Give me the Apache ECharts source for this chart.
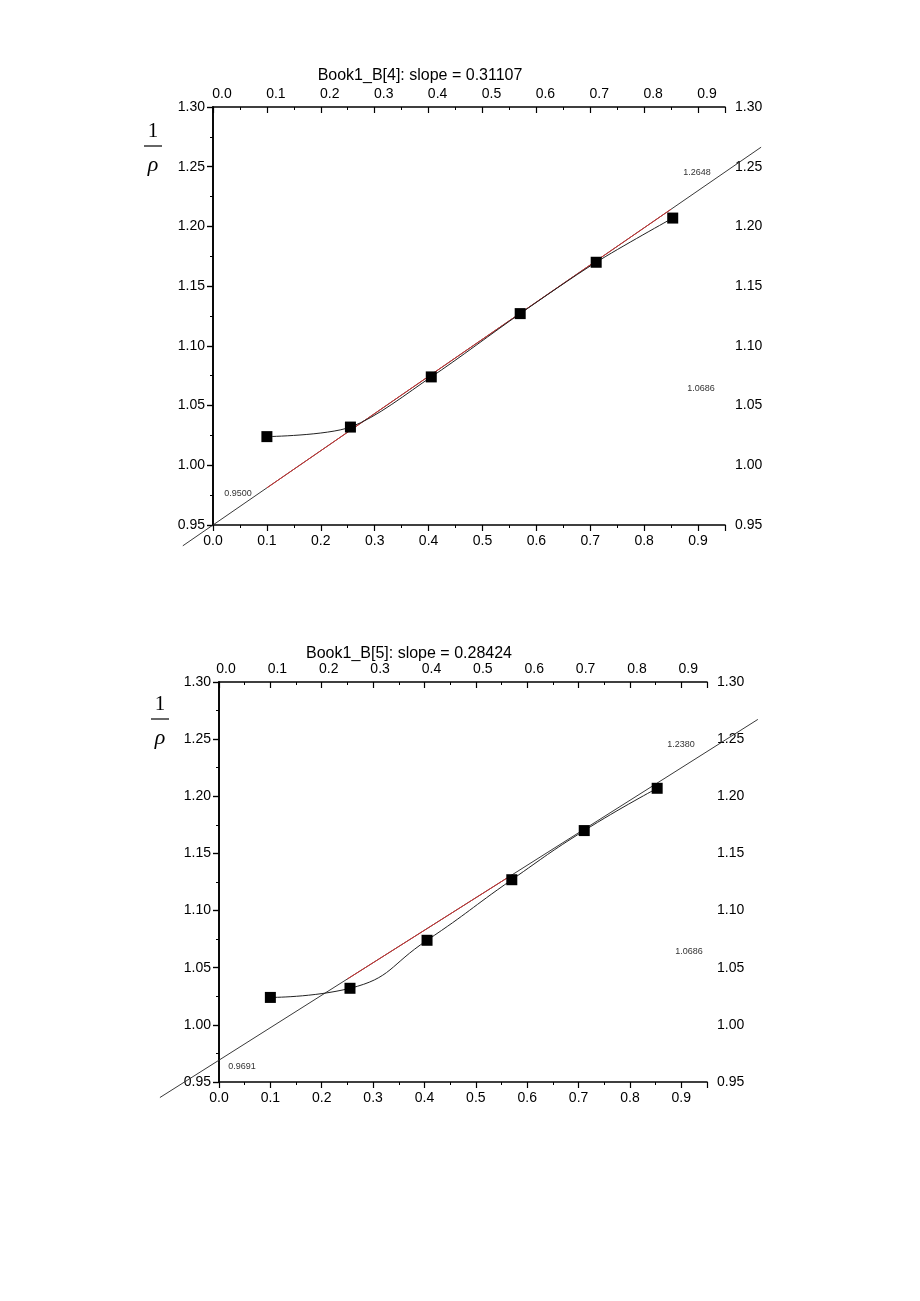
<!DOCTYPE html>
<html><head><meta charset="utf-8">
<script src="https://cdn.jsdelivr.net/npm/echarts@6/dist/echarts.min.js"></script>
<style>html,body{margin:0;padding:0;background:#fff}#c{width:920px;height:1301px}</style>
</head><body><div id="c"></div>
<script>
// ---- data ----
const xVals = [0.100, 0.255, 0.405, 0.570, 0.711, 0.853];
const yVals = [1.024, 1.032, 1.074, 1.127, 1.170, 1.207];
const titles = ['Book1_B[4]: slope = 0.31107', 'Book1_B[5]: slope = 0.28424'];
const intercepts = [0.9500, 0.9691];
const slopes = [0.31107, 0.28424];
const fitXRange = [[-0.056, 1.017], [-0.115, 1.049]];
const redXRange = [[0.10, 0.85], [0.25, 0.57]];
const annoTexts = [['0.9500', '1.2648', '1.0686'], ['0.9691', '1.2380', '1.0686']];

// ---- layout ----
const grids = [
  {left: 213, top: 107, width: 512, height: 418},
  {left: 219, top: 682, width: 488, height: 400}
];
const topLabelShift = [18, 14];
const smoothness = [0.3, 0.5];
const titlePos = [[420, 76], [409, 654]];
const rhoPos = [[153, 131], [160, 704]];
const annoPos = [
  [[238, 494], [697, 173], [701, 389]],
  [[242, 1067], [681, 745], [689, 952]]
];

const FONT = '"Liberation Sans", Arial, sans-serif';
const lineAxis = {lineStyle: {color: '#000', width: 1.6}};

const xAxes = [], yAxes = [], series = [], graphics = [];
grids.forEach((g, i) => {
  const xBase = {
    type: 'value', gridIndex: i, min: 0, max: 0.95, interval: 0.1,
    axisLine: lineAxis, splitLine: {show: false},
    minorTick: {show: true, splitNumber: 2, length: 3, lineStyle: {color: '#000', width: 1}},
    axisTick: {length: 6, lineStyle: {color: '#000', width: 1.2}},
  };
  xAxes.push(Object.assign({}, xBase, {
    position: 'bottom',
    axisTick: Object.assign({}, xBase.axisTick, {inside: false}),
    axisLabel: {margin: 9, fontSize: 14, color: '#000', fontFamily: FONT, showMaxLabel: false,
      formatter: v => v.toFixed(1)}
  }));
  xAxes.push(Object.assign({}, xBase, {
    position: 'top',
    axisTick: Object.assign({}, xBase.axisTick, {inside: true}),
    axisLabel: {margin: 6, fontSize: 14, color: '#000', fontFamily: FONT, showMaxLabel: false,
      padding: [0, 0, 0, topLabelShift[i]], formatter: v => v.toFixed(1)}
  }));
  const yBase = {
    type: 'value', gridIndex: i, min: 0.95, max: 1.30, interval: 0.05,
    axisLine: lineAxis, splitLine: {show: false},
    minorTick: {show: true, splitNumber: 2, length: 3, lineStyle: {color: '#000', width: 1}},
  };
  yAxes.push(Object.assign({}, yBase, {
    position: 'left',
    axisTick: {inside: false, length: 6, lineStyle: {color: '#000', width: 1.2}},
    axisLabel: {margin: 8, fontSize: 14, color: '#000', fontFamily: FONT, formatter: v => v.toFixed(2)}
  }));
  yAxes.push(Object.assign({}, yBase, {
    position: 'right',
    axisTick: {inside: true, length: 6, lineStyle: {color: '#000', width: 1.2}},
    axisLabel: {margin: 10, fontSize: 14, color: '#000', fontFamily: FONT, formatter: v => v.toFixed(2)}
  }));

  const b = intercepts[i], m = slopes[i];
  const redData = redXRange[i].map(x => [x, b + m * x]);
  const pts = xVals.map((x, k) => [x, yVals[k]]);

  series.push({type: 'line', xAxisIndex: 2 * i, yAxisIndex: 2 * i, data: redData, symbol: 'none',
    silent: true, z: 3, lineStyle: {color: '#d23030', width: 1}});
  series.push({type: 'line', xAxisIndex: 2 * i, yAxisIndex: 2 * i, data: pts, symbol: 'none',
    smooth: smoothness[i], silent: true, z: 4, lineStyle: {color: '#222', width: 1}});
  series.push({type: 'scatter', xAxisIndex: 2 * i, yAxisIndex: 2 * i, data: pts, symbol: 'rect',
    symbolSize: 11, silent: true, z: 5, itemStyle: {color: '#000', opacity: 1}});

  graphics.push({type: 'text', x: titlePos[i][0], y: titlePos[i][1],
    style: {text: titles[i], font: '16px ' + FONT, fill: '#000', align: 'center', verticalAlign: 'middle'}});
  const [rx, ry] = rhoPos[i];
  graphics.push({type: 'text', x: rx, y: ry,
    style: {text: '1', font: '21px "Liberation Serif", "Times New Roman", serif', fill: '#000', align: 'center', verticalAlign: 'middle'}});
  graphics.push({type: 'line', shape: {x1: rx - 9, y1: ry + 15, x2: rx + 9, y2: ry + 15},
    style: {stroke: '#000', lineWidth: 1.2}});
  graphics.push({type: 'text', x: rx, y: ry + 34,
    style: {text: 'ρ', font: 'italic 22px "Liberation Serif", "Times New Roman", serif', fill: '#000', align: 'center', verticalAlign: 'middle'}});
  annoTexts[i].forEach((t, k) => {
    graphics.push({type: 'text', x: annoPos[i][k][0], y: annoPos[i][k][1],
      style: {text: t, font: '9px ' + FONT, fill: '#333', align: 'center', verticalAlign: 'middle'}});
  });
});

const chart = echarts.init(document.getElementById('c'), null, {renderer: 'canvas'});
chart.setOption({
  animation: false,
  backgroundColor: '#fff',
  grid: grids,
  xAxis: xAxes,
  yAxis: yAxes,
  series: series,
  graphic: graphics
});

// fitted tangent lines, extending past the frame, placed through the axes' own scales
const fitGraphics = grids.map((g, i) => {
  const b = intercepts[i], m = slopes[i];
  const [p1, p2] = fitXRange[i].map(x =>
    chart.convertToPixel({xAxisIndex: 2 * i, yAxisIndex: 2 * i}, [x, b + m * x]));
  return {type: 'line', z: 2, shape: {x1: p1[0], y1: p1[1], x2: p2[0], y2: p2[1]},
    style: {stroke: '#222', lineWidth: 0.9}};
});
chart.setOption({graphic: graphics.concat(fitGraphics)});
</script>
</body></html>
